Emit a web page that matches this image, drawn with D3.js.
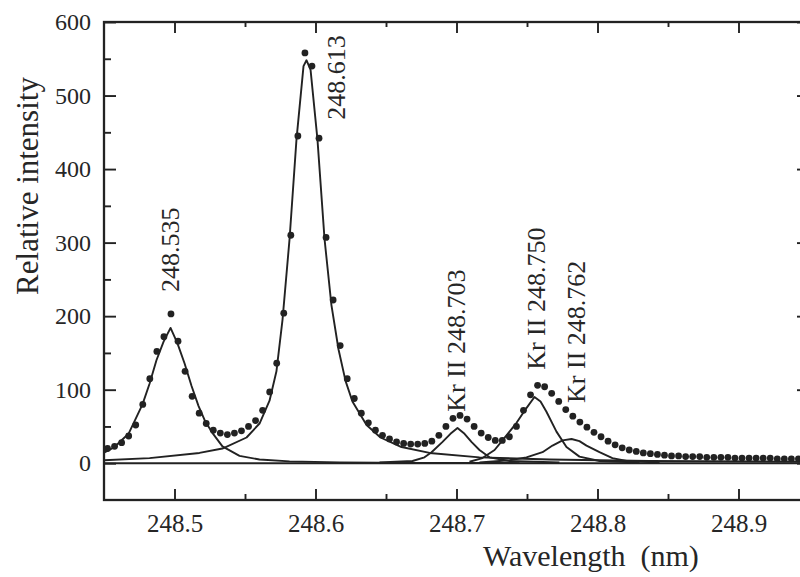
<!DOCTYPE html>
<html>
<head>
<meta charset="utf-8">
<script src="https://cdn.jsdelivr.net/npm/d3@7"></script>
<style>
  body { margin: 0; background: #fff; }
  text { font-family: "Liberation Serif", "Times New Roman", serif; fill: #262626; }
</style>
</head>
<body>
<div id="container"></div>
<script>
// measured spectrum, sampled every 0.005 nm from 248.4525 nm
var sampleStart = 248.4525;
var sampleStep = 0.005;
var measured = [
    20, 23, 28, 37, 52, 80, 115, 152, 172, 203,
    166, 125, 91, 68, 54, 45, 41, 39, 41, 44,
    50, 58, 72, 97, 136, 204, 310, 445, 558, 540,
    442, 307, 222, 160, 115, 88, 68, 55, 45, 38,
    33, 29, 27, 26, 26, 27, 30, 38, 50, 61,
    65, 60, 50, 41, 35, 31, 31, 36, 50, 72,
    93, 106, 104, 95, 84, 73, 64, 56, 49, 42,
    36, 30, 25, 21, 18, 16, 14, 13, 12, 11,
    10, 10, 9, 9, 9, 8, 8, 8, 8, 7,
    7, 7, 7, 7, 7, 6, 6, 6, 6
];

// fitted line profiles [wavelength, intensity]
var line248535 = [
    [248.4496, 14], [248.4574, 22], [248.4674, 40], [248.4773, 80], [248.4823, 108],
    [248.4872, 140], [248.4922, 165], [248.4972, 184], [248.5021, 163], [248.5071, 136],
    [248.5121, 105], [248.5170, 78], [248.5220, 56], [248.5270, 41], [248.5340, 23],
    [248.5461, 10], [248.5603, 5], [248.5816, 2.5], [248.6170, 1.2], [248.6738, 0.5],
    [248.7447, 0.2]
];
var line248613 = [
    [248.4496, 4], [248.4823, 7], [248.5177, 14], [248.5340, 20], [248.5511, 35],
    [248.5603, 54], [248.5674, 85], [248.5723, 125], [248.5766, 195], [248.5816, 305],
    [248.5865, 440], [248.5915, 540], [248.5936, 548], [248.5965, 535], [248.6014, 440],
    [248.6064, 305], [248.6113, 215], [248.6163, 155], [248.6213, 112], [248.6262, 84],
    [248.6362, 52], [248.6461, 35], [248.6610, 22], [248.6809, 14], [248.7163, 8],
    [248.7660, 5], [248.8369, 3], [248.9500, 2]
];
var line248703 = [
    [248.6454, 1], [248.6688, 3], [248.6773, 8], [248.6823, 15], [248.6901, 29],
    [248.6957, 40], [248.7007, 48], [248.7057, 40], [248.7106, 29], [248.7163, 18],
    [248.7234, 8], [248.7376, 3], [248.7730, 1]
];
var line248750 = [
    [248.7092, 2], [248.7184, 7], [248.7270, 18], [248.7326, 31], [248.7376, 43],
    [248.7426, 55], [248.7496, 75], [248.7553, 90], [248.7596, 84], [248.7638, 70],
    [248.7709, 43], [248.7780, 22], [248.7872, 9], [248.8014, 3], [248.8298, 1]
];
var line248762 = [
    [248.7163, 1], [248.7376, 4], [248.7496, 8], [248.7610, 15], [248.7681, 24],
    [248.7752, 31], [248.7816, 33], [248.7872, 30], [248.7922, 24], [248.8014, 15],
    [248.8106, 7], [248.8206, 3], [248.8440, 1]
];

// peak labels, anchored at [wavelength, intensity]
var peakLabels = [
    { text: "248.535", at: [248.5032, 233] },
    { text: "248.613", at: [248.6209, 467] },
    { text: "Kr II 248.703", at: [248.7060, 70] },
    { text: "Kr II 248.750", at: [248.7628, 127] },
    { text: "Kr II 248.762", at: [248.7911, 82] }
];

var xMajor = [248.5, 248.6, 248.7, 248.8, 248.9];
var xMinor = [248.55, 248.65, 248.75, 248.85];
var yMajor = [0, 100, 200, 300, 400, 500, 600];
var yMinor = [50, 150, 250, 350, 450, 550];

var W = 800, H = 577;
var mL = 104, mR = 809, mT = 22, mB = 500;

var svg = d3.select("#container").append("svg")
    .attr("width", W)
    .attr("height", H);

var x = d3.scaleLinear().domain([248.45, 248.95]).range([mL, mR]);
var y = d3.scaleLinear().domain([-50, 600]).range([mB, mT]);

svg.append("clipPath").attr("id", "plot")
    .append("rect")
    .attr("x", mL).attr("y", mT)
    .attr("width", mR - mL).attr("height", mB - mT);

var ink = "#222";

function styleAxis(size) {
    return function (g) {
        g.select(".domain").remove();
        g.selectAll(".tick line").attr("stroke", ink).attr("stroke-width", 1.9);
        g.selectAll(".tick text").style("font-size", size + "px").attr("fill", "#262626");
    };
}

// bottom
svg.append("g")
    .attr("transform", `translate(0,${mB})`)
    .call(d3.axisBottom(x).tickValues(xMajor).tickSize(-11).tickPadding(14)
        .tickFormat(d3.format(".1f")))
    .call(styleAxis(25));
svg.append("g")
    .attr("transform", `translate(0,${mB})`)
    .call(d3.axisBottom(x).tickValues(xMinor).tickSize(-6).tickFormat(""))
    .call(styleAxis(25));
// top
svg.append("g")
    .attr("transform", `translate(0,${mT})`)
    .call(d3.axisTop(x).tickValues(xMajor).tickSize(-11).tickFormat(""))
    .call(styleAxis(25));
svg.append("g")
    .attr("transform", `translate(0,${mT})`)
    .call(d3.axisTop(x).tickValues(xMinor).tickSize(-5).tickFormat(""))
    .call(styleAxis(25));
// left
svg.append("g")
    .attr("transform", `translate(${mL},0)`)
    .call(d3.axisLeft(y).tickValues(yMajor).tickSize(-12).tickPadding(13))
    .call(styleAxis(24));
svg.append("g")
    .attr("transform", `translate(${mL},0)`)
    .call(d3.axisLeft(y).tickValues(yMinor).tickSize(-7).tickFormat(""))
    .call(styleAxis(24));
// right
svg.append("g")
    .attr("transform", `translate(${mR},0)`)
    .call(d3.axisRight(y).tickValues(yMajor).tickSize(-12).tickFormat(""))
    .call(styleAxis(24));
svg.append("g")
    .attr("transform", `translate(${mR},0)`)
    .call(d3.axisRight(y).tickValues(yMinor).tickSize(-7).tickFormat(""))
    .call(styleAxis(24));

// frame
svg.append("rect")
    .attr("x", mL).attr("y", mT)
    .attr("width", mR - mL).attr("height", mB - mT)
    .attr("fill", "none")
    .attr("stroke", ink)
    .attr("stroke-width", 2.3);

var plot = svg.append("g").attr("clip-path", "url(#plot)");

// zero line
plot.append("line")
    .attr("x1", mL).attr("x2", mR)
    .attr("y1", y(0)).attr("y2", y(0))
    .attr("stroke", ink)
    .attr("stroke-width", 2.1);

var line = d3.line()
    .x(d => x(d[0]))
    .y(d => y(d[1]));

[line248535, line248613, line248703, line248750, line248762].forEach(function (pts) {
    plot.append("path")
        .datum(pts)
        .attr("fill", "none")
        .attr("stroke", ink)
        .attr("stroke-width", 1.9)
        .attr("stroke-linejoin", "round")
        .attr("d", line);
});

plot.selectAll("circle.pt")
    .data(measured)
    .enter().append("circle")
    .attr("class", "pt")
    .attr("cx", (d, i) => x(sampleStart + i * sampleStep))
    .attr("cy", d => y(d))
    .attr("r", 3.4)
    .attr("fill", ink);

// peak labels (rotated)
svg.selectAll("text.peak")
    .data(peakLabels)
    .enter().append("text")
    .attr("class", "peak")
    .attr("transform", d => `translate(${x(d.at[0])},${y(d.at[1])}) rotate(-90)`)
    .style("font-size", "26px")
    .text(d => d.text);

// axis titles
svg.append("text")
    .attr("x", 483)
    .attr("y", 566)
    .style("font-size", "30px")
    .style("white-space", "pre")
    .text("Wavelength  (nm)");

svg.append("text")
    .attr("transform", "translate(38,186) rotate(-90)")
    .attr("text-anchor", "middle")
    .style("font-size", "31px")
    .text("Relative intensity");
</script>
</body>
</html>
